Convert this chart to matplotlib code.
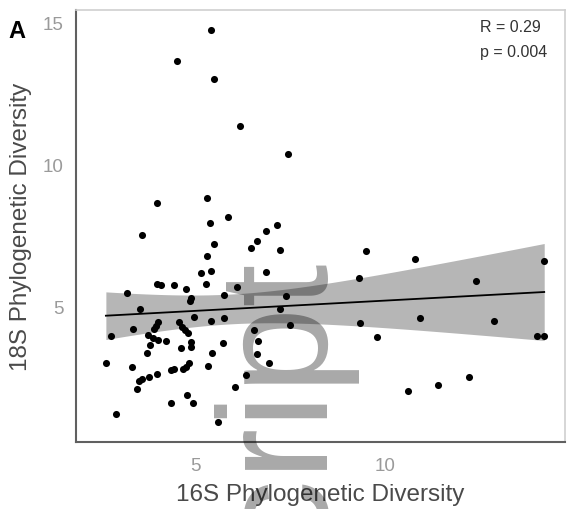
import numpy as np
import matplotlib
matplotlib.use("Agg")
import matplotlib.pyplot as plt

plt.rcParams['font.family'] = ['Liberation Sans', 'DejaVu Sans']

# 16S phylogenetic diversity (x) and 18S phylogenetic diversity (y)
pd16s = [5.40, 4.50, 5.48, 6.16, 7.43, 3.97, 5.29, 3.57, 5.37, 5.85,
         7.14, 6.85, 6.61, 6.46, 7.22, 5.48, 5.29, 5.40, 5.13, 6.85,
         5.26, 3.97, 4.07, 4.42, 4.74, 6.08, 5.74, 3.17, 4.87, 4.84,
         7.38, 3.52, 7.22, 4.95, 5.40, 5.74, 3.33, 3.99, 3.94, 3.89,
         4.55, 4.63, 4.71, 4.79, 2.75, 6.53, 7.49, 3.73, 3.86, 3.99,
         4.21, 4.87, 4.87, 5.71, 6.64, 4.60, 3.78, 3.70, 5.42, 6.61,
         6.93, 2.62, 3.31, 4.81, 4.74, 4.66, 4.42, 4.34, 5.32, 3.97,
         3.76, 3.57, 3.49, 3.44, 6.32, 6.03, 4.76, 4.92, 4.34, 2.88,
         5.58, 9.50, 10.79, 9.31, 14.21, 12.41, 10.93, 9.34, 12.88, 9.79,
         14.02, 14.21, 12.22, 11.40, 10.61]
pd18s = [14.76, 13.64, 13.01, 11.36, 10.38, 8.67, 8.85, 7.55, 7.97, 8.18,
         7.90, 7.69, 7.31, 7.06, 6.99, 7.20, 6.78, 6.26, 6.19, 6.22,
         5.80, 5.80, 5.77, 5.77, 5.63, 5.70, 5.42, 5.49, 5.31, 5.21,
         5.38, 4.93, 4.93, 4.65, 4.51, 4.62, 4.23, 4.48, 4.34, 4.23,
         4.48, 4.30, 4.20, 4.09, 3.99, 4.20, 4.37, 4.02, 3.92, 3.85,
         3.81, 3.78, 3.60, 3.74, 3.81, 3.57, 3.67, 3.39, 3.39, 3.36,
         3.04, 3.04, 2.90, 3.04, 2.90, 2.83, 2.83, 2.80, 2.94, 2.66,
         2.52, 2.45, 2.38, 2.10, 2.59, 2.20, 1.89, 1.61, 1.61, 1.22,
         0.94, 6.96, 6.68, 6.01, 6.61, 5.91, 4.62, 4.44, 4.51, 3.95,
         3.99, 3.99, 2.55, 2.24, 2.03]

x_ticks = [5, 10]
y_ticks = [5, 10, 15]
stats_text = ["R = 0.29", "p = 0.004"]

x = np.array(pd16s)
y = np.array(pd18s)
n = len(x)
b1, b0 = np.polyfit(x, y, 1)
xs = np.linspace(x.min(), x.max(), 100)
ys = b0 + b1 * xs
resid = y - (b0 + b1 * x)
s = np.sqrt(np.sum(resid ** 2) / (n - 2))
sxx = np.sum((x - x.mean()) ** 2)
se = s * np.sqrt(1.0 / n + (xs - x.mean()) ** 2 / sxx)
tq = 1.986

W, H = 567, 510
fig = plt.figure(figsize=(W / 100, H / 100), dpi=100)
ax = fig.add_axes([76 / W, 1 - 443 / H, (565 - 76) / W, (443 - 11) / H])

ax.fill_between(xs, ys - tq * se, ys + tq * se, color='#b6b6b6', lw=0, zorder=1)
ax.plot(xs, ys, color='black', lw=1.3, zorder=2)
ax.scatter(x, y, s=26, color='black', zorder=3, linewidths=0)

ax.set_xlim(1.83, 14.76)
ax.set_ylim(0.25, 15.45)
ax.set_xticks(x_ticks)
ax.set_yticks(y_ticks)
ax.tick_params(length=0, labelsize=13.5, labelcolor='#9a9a9a')
ax.tick_params(axis='x', pad=11)
ax.tick_params(axis='y', pad=9)

for side in ['left', 'bottom']:
    ax.spines[side].set_color('#606060')
    ax.spines[side].set_linewidth(1.5)
for side in ['top', 'right']:
    ax.spines[side].set_color('#cfcfcf')
    ax.spines[side].set_linewidth(1.2)

ax.set_xlabel('16S Phylogenetic Diversity', fontsize=17.5, color='#4a4a4a', labelpad=6)
ax.set_ylabel('18S Phylogenetic Diversity', fontsize=17.5, color='#4a4a4a', labelpad=8)

ax.text(480 / W, 1 - 28 / H, stats_text[0], transform=fig.transFigure,
        fontsize=11.5, color='#333333', ha='left', va='center')
ax.text(480 / W, 1 - 52 / H, stats_text[1], transform=fig.transFigure,
        fontsize=11.5, color='#333333', ha='left', va='center')

fig.text(8 / W, 1 - 38 / H, 'A', fontsize=17, fontweight='bold', color='black',
         ha='left', va='baseline')

# watermark overlay
fig.text(315 / W, 1 - 250 / H, 'Manuscript', rotation=90, rotation_mode='anchor',
         ha='right', va='baseline', fontsize=112, color='black', alpha=0.34,
         zorder=10)

fig.savefig('out.png', dpi=100)
